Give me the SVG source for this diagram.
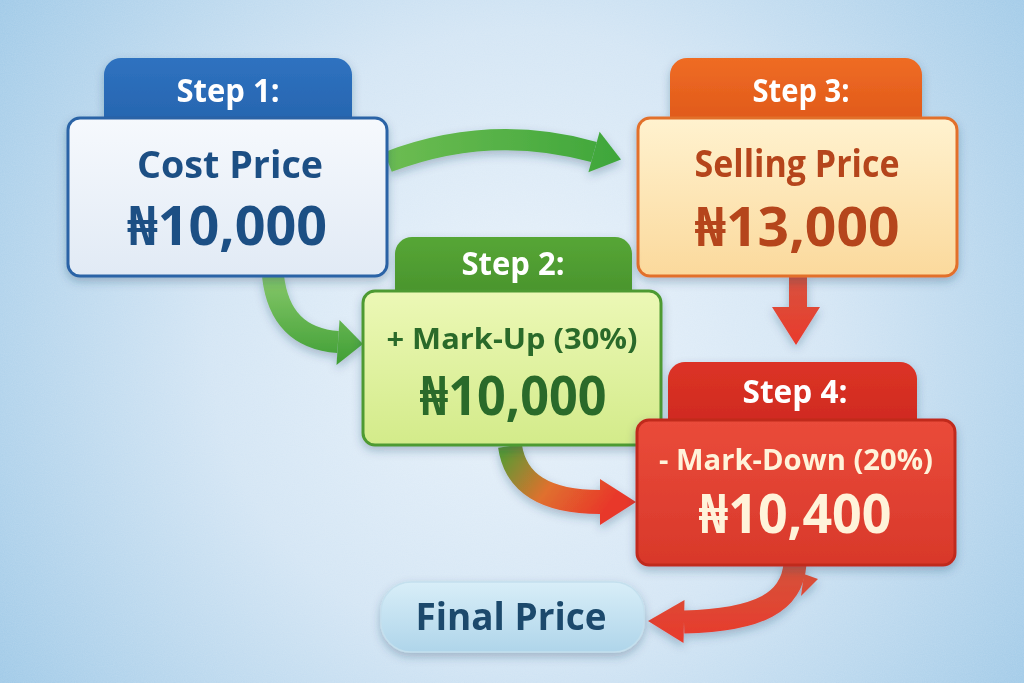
<svg xmlns="http://www.w3.org/2000/svg" width="1024" height="683" viewBox="0 0 1024 683">
<defs>
  <radialGradient id="bg" cx="520" cy="340" r="620" gradientUnits="userSpaceOnUse">
    <stop offset="0" stop-color="#e9f2fa"/>
    <stop offset="0.5" stop-color="#d3e5f4"/>
    <stop offset="1" stop-color="#9fc9e7"/>
  </radialGradient>
  <filter id="grain" x="0" y="0" width="100%" height="100%">
    <feTurbulence type="fractalNoise" baseFrequency="0.9" numOctaves="2" seed="3" result="n"/>
    <feColorMatrix type="matrix" values="0 0 0 0 1  0 0 0 0 1  0 0 0 0 1  0 0 0 0.14 0"/>
  </filter>
  <filter id="sh" x="-20%" y="-20%" width="140%" height="150%">
    <feDropShadow dx="0" dy="4" stdDeviation="5" flood-color="#1b3d60" flood-opacity="0.3"/>
  </filter>
  <linearGradient id="g1" x1="0" y1="0" x2="0" y2="1">
    <stop offset="0" stop-color="#f6f9fd"/><stop offset="1" stop-color="#e1eaf5"/>
  </linearGradient>
  <linearGradient id="g1t" x1="0" y1="0" x2="0" y2="1">
    <stop offset="0" stop-color="#2f72c0"/><stop offset="1" stop-color="#2462ab"/>
  </linearGradient>
  <linearGradient id="g3" x1="0" y1="0" x2="0" y2="1">
    <stop offset="0" stop-color="#fff2cf"/><stop offset="1" stop-color="#fbd99c"/>
  </linearGradient>
  <linearGradient id="g3t" x1="0" y1="0" x2="0" y2="1">
    <stop offset="0" stop-color="#ef6c24"/><stop offset="1" stop-color="#dc5418"/>
  </linearGradient>
  <linearGradient id="g2" x1="0" y1="0" x2="0" y2="1">
    <stop offset="0" stop-color="#ecf8b6"/><stop offset="1" stop-color="#d3eb8a"/>
  </linearGradient>
  <linearGradient id="g2t" x1="0" y1="0" x2="0" y2="1">
    <stop offset="0" stop-color="#56a636"/><stop offset="1" stop-color="#468f2a"/>
  </linearGradient>
  <linearGradient id="g4" x1="0" y1="0" x2="0" y2="1">
    <stop offset="0" stop-color="#ea4b3a"/><stop offset="1" stop-color="#d8382a"/>
  </linearGradient>
  <linearGradient id="g4t" x1="0" y1="0" x2="0" y2="1">
    <stop offset="0" stop-color="#dc3326"/><stop offset="1" stop-color="#cc281e"/>
  </linearGradient>
  <linearGradient id="gf" x1="0" y1="0" x2="0" y2="1">
    <stop offset="0" stop-color="#d8eef8"/><stop offset="1" stop-color="#afd5ea"/>
  </linearGradient>
  <linearGradient id="a1" x1="388" y1="0" x2="622" y2="0" gradientUnits="userSpaceOnUse">
    <stop offset="0" stop-color="#6cbc52"/><stop offset="1" stop-color="#3ea63a"/>
  </linearGradient>
  <linearGradient id="a2" x1="0" y1="276" x2="0" y2="366" gradientUnits="userSpaceOnUse">
    <stop offset="0" stop-color="#86c86a"/><stop offset="1" stop-color="#3f9e34"/>
  </linearGradient>
  <linearGradient id="a3" x1="508" y1="446" x2="600" y2="515" gradientUnits="userSpaceOnUse">
    <stop offset="0" stop-color="#5b9a32"/><stop offset="0.5" stop-color="#e0702e"/><stop offset="1" stop-color="#e8392b"/>
  </linearGradient>
  <linearGradient id="a4" x1="0" y1="566" x2="0" y2="645" gradientUnits="userSpaceOnUse">
    <stop offset="0" stop-color="#d5533b"/><stop offset="1" stop-color="#e9392b"/>
  </linearGradient>
  <linearGradient id="a5" x1="0" y1="277" x2="0" y2="345" gradientUnits="userSpaceOnUse">
    <stop offset="0" stop-color="#d8533f"/><stop offset="1" stop-color="#e93a2b"/>
  </linearGradient>
  <style>
    .t{font-family:"Open Sans","Noto Sans","DejaVu Sans",sans-serif;font-weight:700;text-anchor:middle}
    .step{fill:#ffffff;font-size:32px}
    .title{font-size:38px}
    .amt{font-size:54px}
    .pct{font-size:29px}
    .shaft{fill:none}
  </style>
</defs>

<rect width="1024" height="683" fill="url(#bg)"/>
<rect width="1024" height="683" filter="url(#grain)"/>

<g id="connectors" filter="url(#sh)">
  <g id="c1-3">
    <path class="shaft" d="M 388 162 Q 490 123 594 152" stroke="url(#a1)" stroke-width="21"/>
    <polygon points="621,159.5 588.4,172.2 599.6,131.8" fill="url(#a1)"/>
  </g>
  <g id="c1-2">
    <path class="shaft" d="M 273 276 Q 280 338 338 342" stroke="url(#a2)" stroke-width="22"/>
    <polygon points="363,344 336.5,365 339.5,320" fill="url(#a2)"/>
  </g>
  <g id="c2-4">
    <path class="shaft" d="M 510 446 Q 518 502 600 502" stroke="url(#a3)" stroke-width="24"/>
    <polygon points="636,502 600,479 600,525" fill="url(#a3)"/>
  </g>
  <g id="c3-4">
    <path d="M 789 277 L 807 277 L 807 307 L 820 307 L 796 345 L 772 307 L 789 307 Z" fill="url(#a5)"/>
  </g>
  <g id="c4-f">
    <path class="shaft" d="M 795 564 C 792 602 760 620 684 622" stroke="url(#a4)" stroke-width="23"/>
    <polygon points="804,574 818,579 801,596" fill="url(#a4)"/>
    <polygon points="648,621 684.5,600 683.5,643" fill="url(#a4)"/>
  </g>
</g>

<g id="step1" filter="url(#sh)">
  <rect x="104" y="58" width="248" height="80" rx="17" fill="url(#g1t)"/>
  <rect x="68" y="118" width="319" height="158" rx="12" fill="url(#g1)" stroke="#2a63a6" stroke-width="3"/>
  <text class="t step" x="228" y="102" textLength="103" lengthAdjust="spacingAndGlyphs">Step 1:</text>
  <text class="t title" x="230" y="178" fill="#1f4f84" textLength="186" lengthAdjust="spacingAndGlyphs">Cost Price</text>
  <text class="t amt" x="227" y="245" fill="#1f4f84" textLength="200" lengthAdjust="spacingAndGlyphs">₦10,000</text>
</g>

<g id="step3" filter="url(#sh)">
  <rect x="670" y="58" width="252" height="80" rx="17" fill="url(#g3t)"/>
  <rect x="638" y="118" width="319" height="158" rx="12" fill="url(#g3)" stroke="#e2702c" stroke-width="3"/>
  <text class="t step" x="801" y="102" textLength="97" lengthAdjust="spacingAndGlyphs">Step 3:</text>
  <text class="t title" x="797" y="177" fill="#b5451a" textLength="205" lengthAdjust="spacingAndGlyphs">Selling Price</text>
  <text class="t amt" x="797" y="246" fill="#b5451a" textLength="205" lengthAdjust="spacingAndGlyphs">₦13,000</text>
</g>

<g id="step2" filter="url(#sh)">
  <rect x="395" y="237" width="237" height="74" rx="17" fill="url(#g2t)"/>
  <rect x="363" y="291" width="298" height="154" rx="12" fill="url(#g2)" stroke="#4e9a32" stroke-width="3"/>
  <text class="t step" x="513" y="275" textLength="103" lengthAdjust="spacingAndGlyphs">Step 2:</text>
  <text class="t pct" x="512" y="349" fill="#2b6a2b" textLength="251" lengthAdjust="spacingAndGlyphs">+ Mark-Up (30%)</text>
  <text class="t amt" x="513" y="415" fill="#2b6a2b" textLength="187" lengthAdjust="spacingAndGlyphs">₦10,000</text>
</g>

<g id="step4" filter="url(#sh)">
  <rect x="668" y="362" width="249" height="78" rx="17" fill="url(#g4t)"/>
  <rect x="637" y="420" width="318" height="145" rx="12" fill="url(#g4)" stroke="#c02a1f" stroke-width="3"/>
  <text class="t step" x="795" y="403" textLength="105" lengthAdjust="spacingAndGlyphs">Step 4:</text>
  <text class="t pct" x="796" y="470" fill="#fff3da" textLength="274" lengthAdjust="spacingAndGlyphs">- Mark-Down (20%)</text>
  <text class="t amt" x="795" y="533" fill="#fff3da" textLength="193" lengthAdjust="spacingAndGlyphs">₦10,400</text>
</g>

<g id="final" filter="url(#sh)">
  <rect x="381" y="582" width="263" height="70" rx="30" fill="url(#gf)" stroke="#c4e0ee" stroke-width="1.5"/>
  <text class="t title" x="511" y="630" fill="#1c4a6c" textLength="191" lengthAdjust="spacingAndGlyphs">Final Price</text>
</g>
</svg>
